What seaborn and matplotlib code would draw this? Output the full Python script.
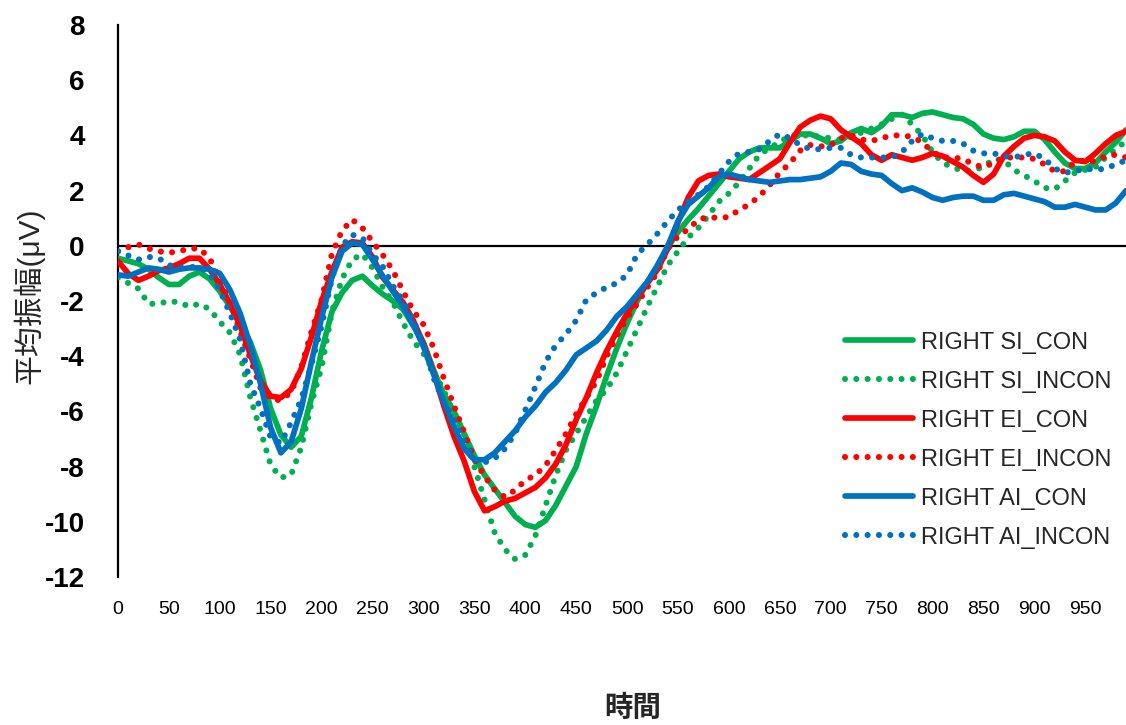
import numpy as np
import pandas as pd
import seaborn as sns
import matplotlib.pyplot as plt

# time axis (ms), one reading every 10 ms
t = np.arange(0, 1000, 10)

si_con = [-0.45, -0.55, -0.65, -0.85, -1.15, -1.4, -1.4, -1.1, -0.95, -1.2,
          -1.65, -2.2, -2.8, -3.5, -4.5, -5.9, -6.85, -7.3, -6.9, -5.5,
          -3.8, -2.4, -1.7, -1.25, -1.1, -1.45, -1.75, -2.0, -2.3, -2.9,
          -3.5, -4.5, -5.4, -6.0, -6.8, -7.6, -8.3, -8.8, -9.3, -9.8,
          -10.1, -10.2, -9.95, -9.4, -8.7, -8.0, -6.8, -5.8, -4.7, -3.7,
          -2.8, -2.0, -1.3, -0.7, -0.05, 0.5, 0.95, 1.35, 1.8, 2.25,
          2.7, 3.15, 3.4, 3.55, 3.55, 3.55, 3.8, 4.05, 4.05, 3.9,
          3.7, 3.8, 4.1, 4.25, 4.1, 4.35, 4.75, 4.75, 4.65, 4.8,
          4.85, 4.75, 4.65, 4.6, 4.4, 4.05, 3.9, 3.85, 3.95, 4.15,
          4.15, 3.85, 3.4, 3.0, 2.8, 2.8, 3.0, 3.4, 3.75, 4.2]

si_incon = [-1.15, -1.35, -1.55, -2.1, -2.1, -2.0, -2.05, -2.2, -2.1, -2.3,
            -2.75, -3.15, -3.95, -5.5, -6.7, -7.95, -8.4, -8.3, -7.3, -5.7,
            -4.4, -2.4, -1.2, -0.5, -0.3, -0.8, -1.5, -2.05, -2.8, -3.45,
            -3.9, -4.55, -5.25, -6.1, -6.85, -8.0, -9.2, -10.4, -11.0, -11.35,
            -11.2, -10.5, -9.4, -8.3, -7.4, -6.8, -6.2, -5.6, -5.2, -4.6,
            -3.8, -3.0, -2.2, -1.45, -0.7, -0.2, 0.3, 0.65, 1.1, 1.6,
            1.9, 2.3, 2.8, 3.3, 3.55, 3.75, 4.0, 4.0, 4.0, 3.95,
            3.9, 3.85, 3.95, 4.1, 4.25, 4.4, 4.6, 4.75, 4.4, 4.0,
            3.4, 3.0, 2.85, 2.7, 2.75, 2.85, 3.15, 3.1, 2.75, 2.55,
            2.35, 2.1, 2.05, 2.35, 2.65, 2.75, 2.85, 3.2, 3.5, 3.8]

ei_con = [-0.55, -1.0, -1.25, -1.1, -0.9, -0.8, -0.65, -0.45, -0.45, -0.85,
          -1.4, -2.1, -2.9, -3.95, -4.9, -5.45, -5.5, -5.2, -4.45, -3.3,
          -2.0, -0.95, -0.05, 0.15, 0.1, -0.4, -1.15, -1.6, -2.05, -2.7,
          -3.55, -4.6, -5.8, -6.9, -7.8, -8.9, -9.6, -9.45, -9.25, -9.15,
          -8.95, -8.75, -8.4, -7.9, -7.2, -6.3, -5.5, -4.6, -3.8, -3.1,
          -2.45, -1.85, -1.35, -0.85, -0.1, 0.85, 1.75, 2.35, 2.55, 2.6,
          2.5, 2.45, 2.4, 2.65, 2.9, 3.15, 3.75, 4.3, 4.55, 4.7,
          4.6, 4.2, 3.95, 3.7, 3.3, 3.1, 3.3, 3.2, 3.1, 3.2,
          3.35, 3.25, 3.05, 2.85, 2.55, 2.3, 2.6, 3.25, 3.6, 3.9,
          4.0, 3.95, 3.8, 3.4, 3.1, 3.05, 3.35, 3.7, 4.0, 4.15]

ei_incon = [-0.2, -0.05, 0.05, -0.1, -0.2, -0.25, -0.2, -0.1, -0.1, -0.45,
            -1.25, -2.05, -3.1, -4.1, -5.15, -5.55, -5.6, -5.3, -4.4, -3.1,
            -1.95, -0.3, 0.55, 0.95, 0.65, 0.15, -0.33, -0.9, -1.65, -2.35,
            -2.85, -3.7, -4.8, -5.8, -6.75, -7.75, -8.35, -8.85, -9.1, -8.85,
            -8.5, -8.3, -7.95, -7.4, -6.8, -6.1, -5.5, -4.9, -4.0, -3.25,
            -2.6, -2.1, -1.5, -0.95, -0.1, 0.35, 0.6, 0.95, 1.05, 1.0,
            1.05, 1.3, 1.5, 1.8, 2.2, 2.65, 3.0, 3.45, 3.65, 3.6,
            3.65, 3.9, 4.0, 3.85, 3.8, 3.9, 4.0, 4.0, 3.95, 3.75,
            3.4, 3.2, 3.2, 3.15, 2.95, 2.85, 3.0, 3.2, 3.2, 3.2,
            3.15, 2.95, 2.7, 2.7, 3.05, 3.1, 3.05, 3.25, 3.3, 3.2]

ai_con = [-1.05, -1.1, -0.95, -0.8, -0.85, -0.95, -0.85, -0.8, -0.8, -0.85,
          -1.0, -1.6, -2.45, -3.6, -5.0, -6.6, -7.5, -7.1, -5.9, -4.2,
          -2.6, -1.15, -0.2, 0.1, 0.05, -0.5, -1.1, -1.65, -2.2, -2.85,
          -3.65, -4.65, -5.65, -6.55, -7.35, -7.75, -7.75, -7.5, -7.1, -6.7,
          -6.2, -5.8, -5.3, -4.95, -4.5, -3.95, -3.7, -3.45, -3.05, -2.55,
          -2.2, -1.75, -1.3, -0.7, 0.0, 0.9, 1.5, 1.8, 2.1, 2.5,
          2.6, 2.5, 2.4, 2.35, 2.3, 2.35, 2.4, 2.4, 2.45, 2.5,
          2.7, 3.0, 2.95, 2.7, 2.6, 2.55, 2.25, 2.0, 2.1, 1.95,
          1.75, 1.65, 1.75, 1.8, 1.8, 1.65, 1.65, 1.85, 1.9, 1.8,
          1.7, 1.6, 1.4, 1.4, 1.5, 1.4, 1.3, 1.3, 1.55, 2.0]

ai_incon = [-0.2, -0.35, -0.5, -0.4, -0.45, -0.7, -0.8, -0.75, -0.8, -1.0,
            -1.6, -2.45, -3.4, -5.0, -5.9, -6.95, -7.15, -6.4, -5.55, -4.3,
            -2.9, -1.2, 0.0, 0.4, 0.3, -0.3, -0.75, -1.45, -2.0, -2.7,
            -3.55, -4.8, -5.65, -6.3, -7.1, -7.75, -7.85, -7.7, -7.35, -6.8,
            -5.95, -5.1, -4.2, -3.6, -3.2, -2.7, -1.95, -1.7, -1.5, -1.35,
            -1.05, -0.3, 0.05, 0.45, 0.9, 1.3, 1.6, 1.85, 2.15, 2.6,
            3.05, 3.35, 3.4, 3.5, 3.8, 4.05, 3.9, 3.65, 3.5, 3.5,
            3.55, 3.55, 3.3, 3.2, 3.2, 3.2, 3.2, 3.4, 3.8, 4.05,
            3.9, 3.8, 3.8, 3.7, 3.45, 3.35, 3.35, 3.25, 3.2, 3.3,
            3.35, 3.15, 2.8, 2.65, 2.7, 2.8, 2.75, 2.8, 2.95, 3.1]

labels = ['RIGHT SI_CON', 'RIGHT SI_INCON', 'RIGHT EI_CON',
          'RIGHT EI_INCON', 'RIGHT AI_CON', 'RIGHT AI_INCON']
series = [si_con, si_incon, ei_con, ei_incon, ai_con, ai_incon]
colors = ['#00B050', '#00B050', '#FF0000', '#FF0000', '#0070C0', '#0070C0']
dotted = [False, True, False, True, False, True]

sns.set_theme(style='white')
plt.rcParams['font.family'] = ['Liberation Sans', 'Noto Sans CJK TC', 'DejaVu Sans']

fig = plt.figure(figsize=(11.26, 7.25), dpi=100)
ax = fig.add_axes([0.1048, 0.2041, 0.8952, 0.7614])

ax.axhline(0, color='black', lw=1.6, zorder=1)

for name, vals, c, dot in zip(labels, series, colors, dotted):
    if dot:
        sns.lineplot(x=t, y=vals, ax=ax, color=c, lw=4.4, label=name,
                     linestyle=(0, (0.001, 1.85)), dash_capstyle='round',
                     sort=False, zorder=3)
    else:
        sns.lineplot(x=t, y=vals, ax=ax, color=c, lw=4.1, label=name,
                     solid_capstyle='round', solid_joinstyle='round',
                     sort=False, zorder=3)

ax.set_xlim(0, 990)
ax.set_ylim(-12, 8)
ax.set_xticks(np.arange(0, 1000, 50))
ax.set_yticks(np.arange(-12, 9, 2))
ax.set_xticklabels([str(v) for v in range(0, 1000, 50)], fontsize=14)
ax.set_yticklabels([str(v) for v in range(-12, 9, 2)], fontsize=20, fontweight='bold')
ax.tick_params(axis='x', length=0, pad=17, colors='black')
ax.tick_params(axis='y', length=0, pad=24, colors='black')

for s in ['top', 'right', 'bottom']:
    ax.spines[s].set_visible(False)
ax.spines['left'].set_color('black')
ax.spines['left'].set_linewidth(1.6)
ax.grid(False)

ax.set_ylabel('平均振幅(μV)', fontsize=21.5)
ax.yaxis.set_label_coords(-0.089, 0.51)
ax.yaxis.label.set_va('center')
ax.set_xlabel('時間', fontsize=20.5, fontweight='bold')
ax.xaxis.set_label_coords(0.511, -0.237)
ax.xaxis.label.set_va('center')

h, l = ax.get_legend_handles_labels()
ax.legend(h, l, loc='center left', bbox_to_anchor=(0.7504, 0.393),
          bbox_transform=fig.transFigure, frameon=False, fontsize=17,
          handlelength=2.9, handletextpad=0.3, labelspacing=0.72,
          borderpad=0, borderaxespad=0)

fig.savefig('out.png', dpi=100)
